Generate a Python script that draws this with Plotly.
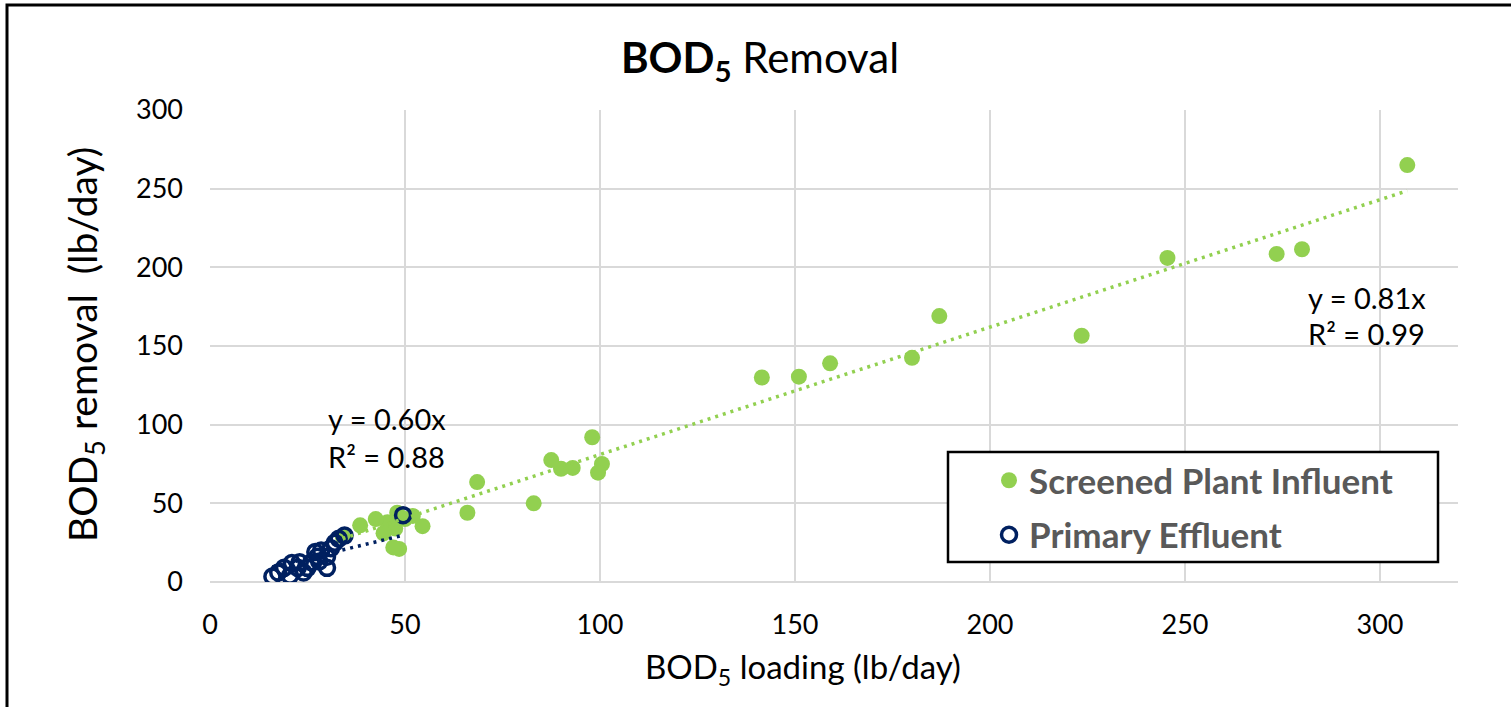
import plotly.graph_objects as go

# ---- data ----
influent_x = [307, 280, 273.5, 245.5, 223.5, 187, 180, 159, 151, 141.5,
              100.5, 99.5, 98, 93, 90, 87.5, 83, 68.5, 66, 54.5,
              52, 50, 48, 48.5, 47, 47.5, 45.5, 44.5, 42.5, 38.5, 34]
influent_y = [265, 211.5, 208.5, 206, 156.5, 169, 142.5, 139, 130.5, 130,
              75, 69.5, 92, 72.5, 72, 77.5, 50, 63.5, 44, 35.5,
              42, 40, 44, 21, 22, 34, 38, 31, 40, 36, 29]

effluent_x = [49.5, 34.5, 33, 32, 31, 28.5, 27, 27.5, 30, 30, 26,
              22.5, 21, 19, 17.5, 16, 20.5, 24, 25, 23, 28]
effluent_y = [42.5, 29.5, 27.5, 25, 21.5, 20, 19, 16, 16, 9, 12.5,
              9, 12, 9, 6, 3.5, 4, 6, 9, 12.5, 13]

influent_slope = 0.81
effluent_slope = 0.60
influent_label = ["y = 0.81x", "R² = 0.99"]
effluent_label = ["y = 0.60x", "R² = 0.88"]

x_ticks = [0, 50, 100, 150, 200, 250, 300]
y_ticks = [0, 50, 100, 150, 200, 250, 300]

GREEN = "#92D050"
BLUE = "#002060"
FONT = "Lato"

fig = go.Figure()

fig.add_trace(go.Scatter(
    x=influent_x, y=influent_y, mode="markers", name="Screened Plant Influent",
    legendgroup="a",
    marker=dict(color=GREEN, size=16, line=dict(width=0)),
))
fig.add_trace(go.Scatter(
    x=effluent_x, y=effluent_y, mode="markers", name="Primary Effluent",
    legendgroup="b",
    marker=dict(symbol="circle-open", color=BLUE, size=15, line=dict(width=3.5, color=BLUE)),
))

# trendlines (through origin)
ix = [min(influent_x), max(influent_x)]
fig.add_trace(go.Scatter(
    x=ix, y=[influent_slope * v for v in ix], mode="lines", showlegend=False,
    line=dict(color=GREEN, width=3.5, dash="3px,5px"), hoverinfo="skip",
))
ex = [min(effluent_x), max(effluent_x)]
fig.add_trace(go.Scatter(
    x=ex, y=[effluent_slope * v for v in ex], mode="lines", showlegend=False,
    line=dict(color=BLUE, width=3.5, dash="3px,5px"), hoverinfo="skip",
))

# plot area in px: left 210, right 1458, top 110, bottom 582
L, R, T, B = 210, 1458, 110, 582
W, H = 1511, 707
pw, ph = R - L, B - T


def px_x(p):
    return (p - L) / pw


def px_y(p):
    return (B - p) / ph


annotations = [
    dict(text=effluent_label[0], x=px_x(326), y=px_y(418)),
    dict(text=effluent_label[1], x=px_x(326), y=px_y(456)),
    dict(text=influent_label[0], x=px_x(1306), y=px_y(297)),
    dict(text=influent_label[1], x=px_x(1306), y=px_y(333)),
]
ann = []
for a in annotations:
    ann.append(dict(text=a["text"], x=a["x"], y=a["y"], xref="paper", yref="paper",
                    xanchor="left", yanchor="middle", showarrow=False,
                    font=dict(family=FONT, size=29, color="black")))

# axis titles
ann.append(dict(text="BOD<sub>5</sub> loading (lb/day)", x=px_x(803), y=px_y(668),
                xref="paper", yref="paper", xanchor="center", yanchor="middle",
                showarrow=False, font=dict(family=FONT, size=33, color="black")))
ann.append(dict(text="BOD<sub>5</sub> removal  (lb/day)", x=px_x(85), y=px_y(345),
                xref="paper", yref="paper", xanchor="center", yanchor="middle",
                textangle=-90, showarrow=False,
                font=dict(family=FONT, size=39, color="black")))

shapes = [
    # outer chart border
    dict(type="rect", xref="paper", yref="paper",
         x0=px_x(7), x1=px_x(1540), y0=px_y(740), y1=px_y(5),
         line=dict(color="black", width=3), fillcolor="rgba(0,0,0,0)", layer="above"),
    # legend box
    dict(type="rect", xref="paper", yref="paper",
         x0=px_x(948), x1=px_x(1438), y0=px_y(562), y1=px_y(452),
         line=dict(color="black", width=2.5), fillcolor="white", layer="above"),
]

fig.update_layout(
    width=W, height=H,
    margin=dict(l=L, r=W - R, t=T, b=H - B, pad=0),
    paper_bgcolor="white", plot_bgcolor="white",
    title=dict(text="<b>BOD<sub>5</sub></b> Removal", x=760 / W, xanchor="center",
               y=1 - 58 / H, yanchor="middle", xref="container", yref="container",
               font=dict(family=FONT, size=42, color="black")),
    xaxis=dict(range=[0, 320], tickvals=x_ticks, showgrid=True, gridcolor="#D9D9D9",
               gridwidth=2, zeroline=False, showline=False, ticks="",
               ticklabelstandoff=24,
               tickfont=dict(family=FONT, size=27, color="black")),
    yaxis=dict(range=[0, 300], tickvals=y_ticks, showgrid=True, gridcolor="#D9D9D9",
               gridwidth=2, zeroline=True, zerolinecolor="#D9D9D9", zerolinewidth=2,
               showline=False, ticks="", ticklabelstandoff=26,
               tickfont=dict(family=FONT, size=27, color="black")),
    legend=dict(x=px_x(989), y=px_y(451), xanchor="left", yanchor="top",
                bgcolor="rgba(0,0,0,0)", borderwidth=0, tracegroupgap=6,
                font=dict(family=FONT, size=35, color="#595959", weight="bold")),
    annotations=ann,
    shapes=shapes,
    showlegend=True,
)

fig.write_html("out.html")
